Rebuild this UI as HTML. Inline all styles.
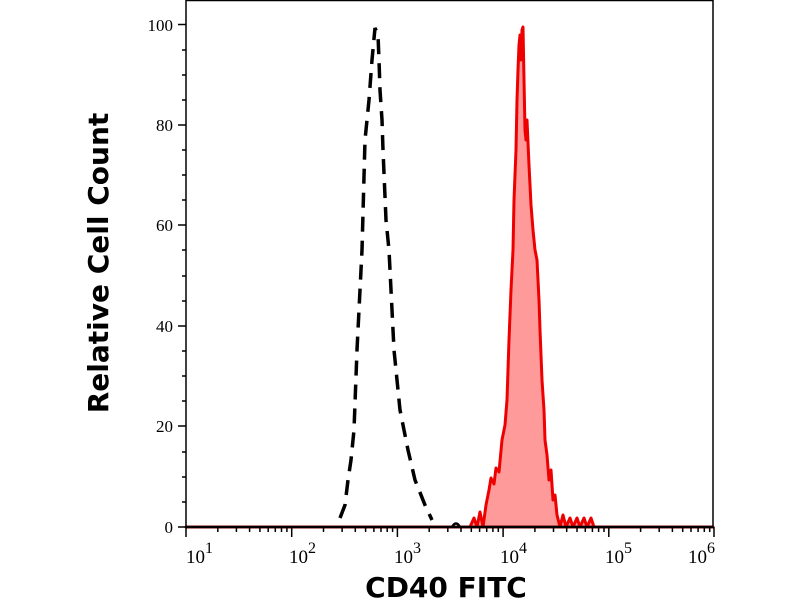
<!DOCTYPE html>
<html><head><meta charset="utf-8"><style>
html,body{margin:0;padding:0;background:#fff;}
svg{display:block;}
</style></head><body>
<svg width="800" height="600" viewBox="0 0 800 600" xmlns="http://www.w3.org/2000/svg">
<defs>
<g id="dec" stroke="#000" stroke-width="1.5">
<line x1="0" y1="527" x2="0" y2="537"/>
<line x1="31.8" y1="527" x2="31.8" y2="532"/><line x1="50.4" y1="527" x2="50.4" y2="532"/><line x1="63.6" y1="527" x2="63.6" y2="532"/><line x1="73.9" y1="527" x2="73.9" y2="532"/><line x1="82.2" y1="527" x2="82.2" y2="532"/><line x1="89.3" y1="527" x2="89.3" y2="532"/><line x1="95.5" y1="527" x2="95.5" y2="532"/><line x1="100.9" y1="527" x2="100.9" y2="532"/>
</g>
</defs>
<rect width="800" height="600" fill="#fff"/>
<path d="M186,527 L470,527 L474,518 L477,527 L480,512 L483,527 L486,505 L489,490 L491,478 L494,484 L496,468 L499,472 L502,440 L505,425 L507,400 L509,340 L511,290 L513,250 L514,200 L516,150 L517,100 L518,70 L519,45 L520,35 L521,60 L522,30 L523,27 L524,80 L525,130 L526,140 L527,120 L529,165 L531,205 L533,230 L535,250 L537,260 L539,300 L540,330 L542,380 L544,410 L545,440 L547,455 L549,480 L551,470 L553,500 L555,495 L557,515 L560,527 L563,515 L566,527 L570,518 L573,527 L577,518 L580,527 L584,518 L587,527 L591,518 L594,527 L713,527 Z" fill="#ff9a9a" stroke="#ee0000" stroke-width="3" stroke-linejoin="round"/>
<path d="M340,518 L345,505 L348,480 L351,460 L354,430 L357,350 L362,250 L365,140 L369,100 L372,60 L375,28 L378,35 L379,60 L380,90 L382,120 L383,150 L386,220 L389,250 L394,350 L400,410 L408,450 L415,480 L425,505 L432,520" fill="none" stroke="#000" stroke-width="3.5" stroke-dasharray="15,9"/>
<path d="M452,527 Q456,520 460,527" fill="none" stroke="#000" stroke-width="2.5"/>
<rect x="186" y="0.5" width="527" height="526.5" fill="none" stroke="#000" stroke-width="1.5"/>
<line x1="186" y1="527" x2="713" y2="527" stroke="#000" stroke-width="2.5"/>
<g stroke="#000" stroke-width="1.5">
<line x1="178" y1="527" x2="186" y2="527"/><line x1="178" y1="426" x2="186" y2="426"/><line x1="178" y1="326" x2="186" y2="326"/><line x1="178" y1="225" x2="186" y2="225"/><line x1="178" y1="125" x2="186" y2="125"/><line x1="178" y1="24.5" x2="186" y2="24.5"/>
<line x1="182" y1="502" x2="186" y2="502"/><line x1="182" y1="477" x2="186" y2="477"/><line x1="182" y1="452" x2="186" y2="452"/>
<line x1="182" y1="401" x2="186" y2="401"/><line x1="182" y1="376" x2="186" y2="376"/><line x1="182" y1="351" x2="186" y2="351"/>
<line x1="182" y1="301" x2="186" y2="301"/><line x1="182" y1="276" x2="186" y2="276"/><line x1="182" y1="250" x2="186" y2="250"/>
<line x1="182" y1="200" x2="186" y2="200"/><line x1="182" y1="175" x2="186" y2="175"/><line x1="182" y1="150" x2="186" y2="150"/>
<line x1="182" y1="100" x2="186" y2="100"/><line x1="182" y1="75" x2="186" y2="75"/><line x1="182" y1="50" x2="186" y2="50"/>
<line x1="714" y1="527" x2="714" y2="537"/>
</g>
<use href="#dec" x="186"/><use href="#dec" x="291.7"/><use href="#dec" x="397.4"/><use href="#dec" x="503.1"/><use href="#dec" x="608.8"/>
<g font-family="'Liberation Serif',serif" font-size="17" fill="#000" text-anchor="end">
<text x="173" y="533">0</text><text x="173" y="432">20</text><text x="173" y="332">40</text><text x="173" y="231">60</text><text x="173" y="131">80</text><text x="173" y="31">100</text>
</g>
<g font-family="'Liberation Serif',serif" font-size="19" fill="#000">
<text x="186" y="563">10<tspan dy="-10" font-size="16">1</tspan></text>
<text x="289" y="563">10<tspan dy="-10" font-size="16">2</tspan></text>
<text x="394" y="563">10<tspan dy="-10" font-size="16">3</tspan></text>
<text x="500" y="563">10<tspan dy="-10" font-size="16">4</tspan></text>
<text x="605" y="563">10<tspan dy="-10" font-size="16">5</tspan></text>
<text x="688" y="563">10<tspan dy="-10" font-size="16">6</tspan></text>
</g>
<text x="446" y="597" text-anchor="middle" font-family="'DejaVu Sans',sans-serif" font-weight="bold" font-size="28" fill="#000">CD40 FITC</text>
<text transform="translate(108,263) rotate(-90)" text-anchor="middle" font-family="'DejaVu Sans',sans-serif" font-weight="bold" font-size="28" fill="#000">Relative Cell Count</text>
</svg>
</body></html>
